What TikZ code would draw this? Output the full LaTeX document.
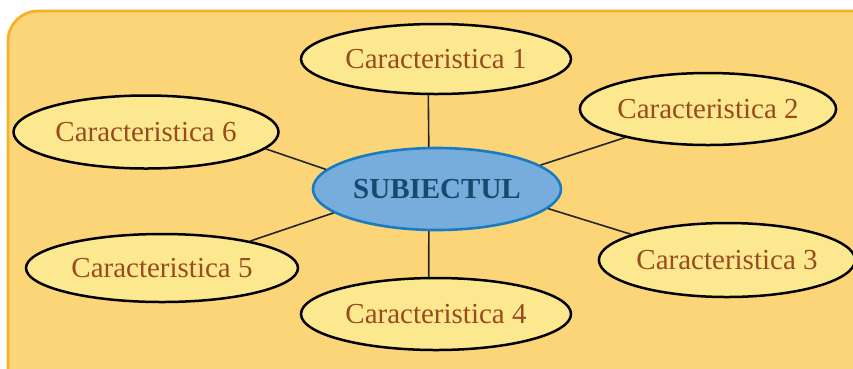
\documentclass[tikz,border=0pt]{standalone}
\usepackage{fontspec}
\setmainfont{Liberation Serif}
\usetikzlibrary{shapes}
\definecolor{panelfill}{HTML}{FBD577}
\definecolor{panelline}{HTML}{F6B128}
\definecolor{featfill}{HTML}{FCE98F}
\definecolor{feattext}{HTML}{9A4A1E}
\definecolor{subjfill}{HTML}{77ADDD}
\definecolor{subjline}{HTML}{1A7CC0}
\definecolor{subjtext}{HTML}{184A6E}

\begin{document}
\begin{tikzpicture}[x=1pt,y=-1pt]
		\tikzstyle{feat}=[draw=black,line width=2.5pt,shape=ellipse,fill=featfill,inner sep=0pt,minimum width=270pt,minimum height=70pt,text=feattext,font=\fontsize{29}{34}\selectfont]
		\tikzstyle{subject}=[draw=subjline,line width=2.6pt,shape=ellipse,fill=subjfill,inner sep=0pt,minimum width=248pt,minimum height=82pt,text=subjtext,font=\fontsize{29}{34}\selectfont\bfseries]
		\tikzstyle{link}=[line width=1.6pt,black!85]

		\useasboundingbox (0,0) rectangle (853,368);
		\clip (0,0) rectangle (853,368);
		\fill[panelfill,draw=panelline,line width=2.8pt,rounded corners=30pt] (8,11) rectangle (885,400);

		\node[subject](sub) at (437,189){SUBIECTUL};

		\node[feat](c1) at (436,59){Caracteristica 1};
		\node[feat,minimum width=250pt,minimum height=72pt](c2) at (708,109){Caracteristica 2};
		\node[feat,minimum width=256pt,minimum height=74pt](c3) at (727,260){Caracteristica 3};
		\node[feat,minimum height=72pt](c4) at (436,314){Caracteristica 4};
		\node[feat,minimum width=272pt,minimum height=68pt](c5) at (162,268){Caracteristica 5};
		\node[feat,minimum width=265pt,minimum height=73pt](c6) at (146,132){Caracteristica 6};

		% spokes leave the centre at fixed angles
		\draw[link] (sub.101) -- (c1.258);
		\draw[link] (sub.13) -- (c2.199);
		\draw[link] (sub.350) -- (c3.165);
		\draw[link] (sub.259) -- (c4.101);
		\draw[link] (sub.193) -- (c5.17);
		\draw[link] (sub.170) -- (c6.352);
\end{tikzpicture}
\end{document}
